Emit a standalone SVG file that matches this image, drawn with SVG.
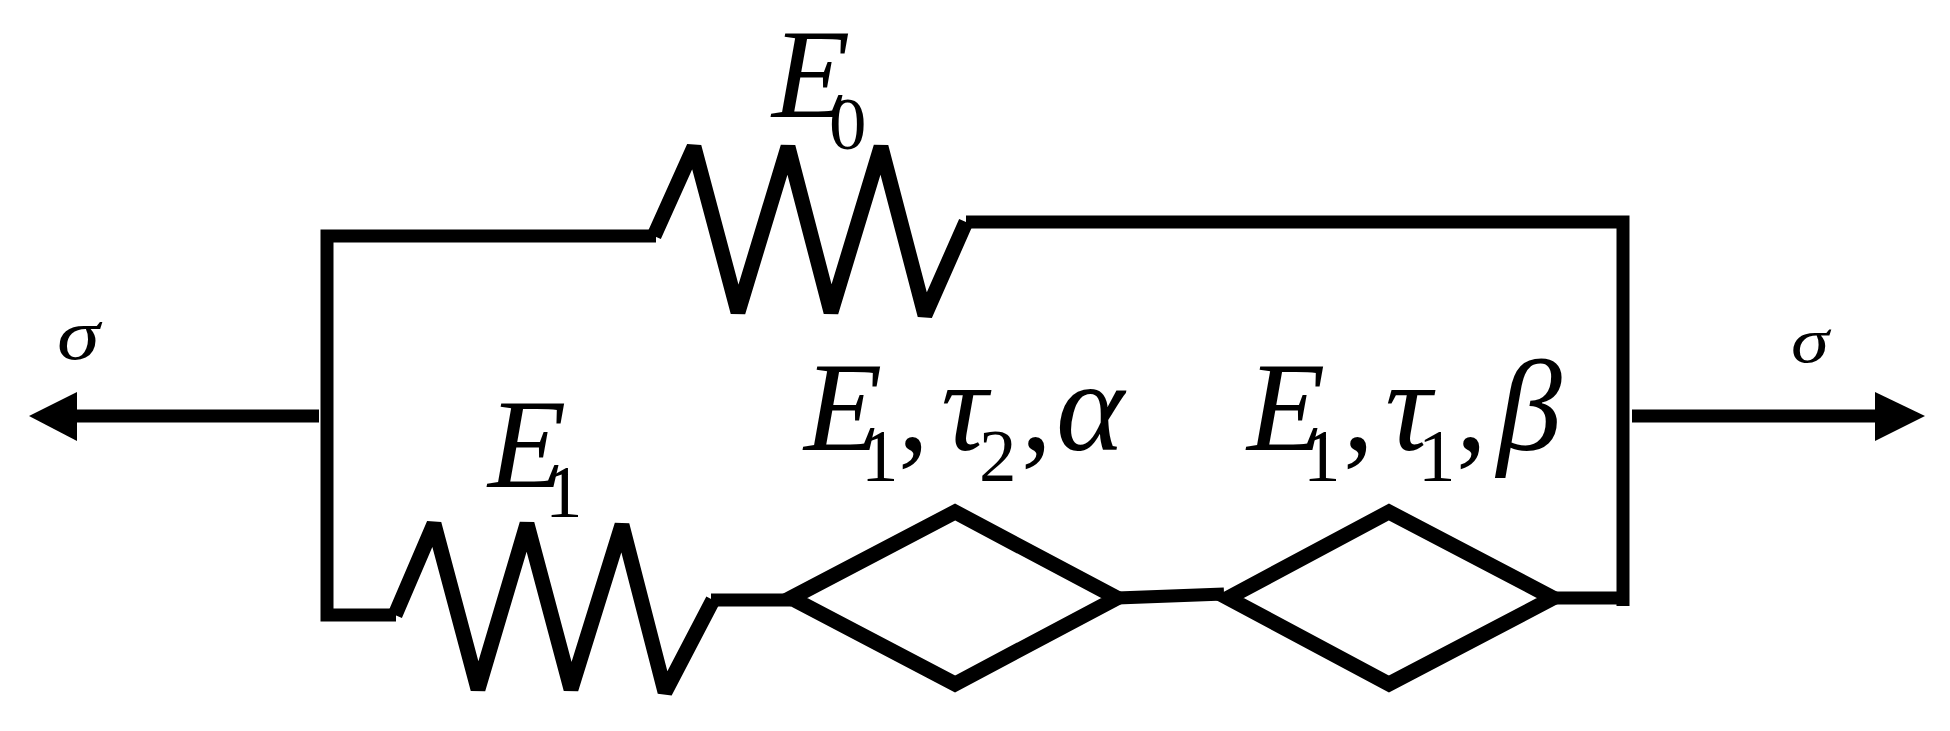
<svg xmlns="http://www.w3.org/2000/svg" width="1950" height="731" viewBox="0 0 1950 731">
<style>
.w{fill:none;stroke:#000;stroke-width:13;stroke-linejoin:miter;stroke-miterlimit:3;stroke-linecap:butt}
.d{fill:none;stroke:#000;stroke-width:15;stroke-linejoin:miter;stroke-miterlimit:3}
.z{fill:none;stroke:#000;stroke-width:15;stroke-linejoin:bevel;stroke-linecap:butt}
.a{fill:#000;stroke:none}
text{font-family:"Liberation Serif","Times New Roman",serif;fill:#000}
.m{font-size:128px;font-style:italic}
.n{font-size:124px;font-style:normal}
.s{font-size:75px;font-style:normal}
.g{font-size:72px;font-style:italic}
</style>
<rect width="1950" height="731" fill="#fff"/>
<g id="connectors">
<path class="w" d="M656 236H327V615H396"/>
<path class="w" d="M966 222H1623V606"/>
<path class="w" d="M711 600H791"/>
<path class="w" d="M1117 598L1224 594"/>
<path class="w" d="M1553 598H1623"/>
<path class="w" d="M319 416H70"/>
<path class="w" d="M1632 416H1885"/>
<polygon class="a" points="29,416 77,392 77,441"/>
<polygon class="a" points="1925,416 1875,392 1875,441"/>
</g>
<g id="spring-e0"><path class="z" d="M654 236L694 147L738 312L788 147L831 312L881 147L925 315L966 222"/></g>
<g id="spring-e1"><path class="z" d="M395 615L434 524L478 689L527 524L571 689L622 525L665 692L713 600"/></g>
<g id="diamond-alpha"><polygon class="d" points="791,598 955,512 1117,598 955,684"/></g>
<g id="diamond-beta"><polygon class="d" points="1228,598 1389,512 1553,598 1389,684"/></g>
<g id="label-e0"><text class="m" x="772" y="117">E<tspan class="s" x="829" y="149">0</tspan></text></g>
<g id="label-e1"><text class="m" x="488" y="487">E<tspan class="s" x="545" y="517">1</tspan></text></g>
<g id="label-alpha"><text class="m" x="804" y="450">E<tspan class="s" x="861" y="481">1</tspan><tspan class="n" x="898" y="450">,</tspan><tspan x="941" y="450" style="font-size:130px">τ</tspan><tspan class="s" x="979" y="481">2</tspan><tspan class="n" x="1021" y="450">,</tspan><tspan x="1056" y="450" style="font-size:130px">α</tspan></text></g>
<g id="label-beta"><text class="m" x="1247" y="450">E<tspan class="s" x="1303" y="481">1</tspan><tspan class="n" x="1343" y="450">,</tspan><tspan x="1385" y="450" style="font-size:130px">τ</tspan><tspan class="s" x="1418" y="481">1</tspan><tspan class="n" x="1456" y="450">,</tspan><tspan x="1497" y="450" style="font-size:130px">β</tspan></text></g>
<g id="label-sigma-left"><text class="g" transform="translate(57 359) scale(1.2 1)">σ</text></g>
<g id="label-sigma-right"><text class="g" transform="translate(1791 362) scale(1.2 1)" style="font-size:64px">σ</text></g>
</svg>
